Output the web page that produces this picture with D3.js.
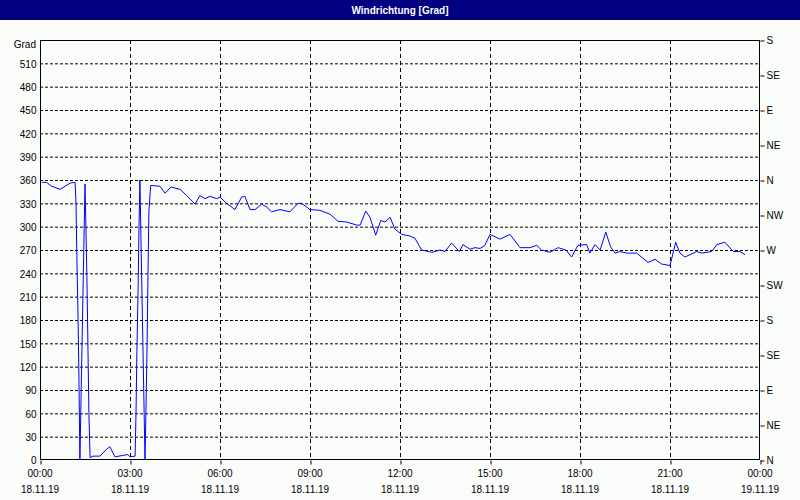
<!DOCTYPE html>
<html>
<head>
<meta charset="utf-8">
<script src="https://cdn.jsdelivr.net/npm/d3@7"></script>
<style>
  body { margin: 0; background: #fafcfa; }
  text { font-family: "Liberation Sans", Arial, sans-serif; font-size: 10px; fill: #000; }
</style>
</head>
<body>
<script>
// time in hours since 18.11.19 00:00, direction in degrees
const hours = [0.06, 0.22, 0.39, 0.67, 1.0, 1.17,
  1.2, 1.23, 1.27, 1.3, 1.33,
  1.5, 1.53, 1.57, 1.6, 1.63, 1.67,
  1.77, 2.0, 2.22, 2.33, 2.5, 2.77, 2.93, 3.0, 3.17,
  3.2, 3.23, 3.27, 3.3, 3.33, 3.5, 3.53, 3.57, 3.6, 3.63, 3.69,
  4.0, 4.17, 4.36, 4.67, 4.89, 5.17, 5.33, 5.5, 5.67, 5.89, 6.0,
  6.22, 6.5, 6.72, 6.83, 7.0, 7.17, 7.39, 7.56, 7.72, 8.0, 8.33, 8.6, 8.72,
  9.0, 9.33, 9.67, 9.93, 10.22, 10.56, 10.67, 10.86, 11.0, 11.19, 11.36,
  11.5, 11.67, 11.83, 12.06, 12.33, 12.5, 12.72, 13.06, 13.33, 13.5,
  13.72, 13.98, 14.1, 14.33, 14.5, 14.67, 14.83, 15.0, 15.33, 15.67,
  16.0, 16.33, 16.56, 16.72, 17.0, 17.27, 17.53, 17.72, 17.93, 18.22,
  18.33, 18.5, 18.67, 18.86, 19.02, 19.17, 19.33, 19.56, 19.89, 20.27,
  20.5, 20.72, 21.0, 21.19, 21.33, 21.5, 21.89, 22.06, 22.39, 22.56,
  22.83, 23.11, 23.33, 23.5];
const degrees = [357, 357, 352, 348, 356, 357,
  330, 260, 180, 100, 0,
  355, 300, 220, 140, 60, 3,
  5, 5, 14, 17, 4, 6, 7, 4, 5,
  60, 140, 220, 300, 360, 0, 60, 150, 240, 320, 353,
  352, 343, 351, 348, 340, 329, 340, 336, 339, 336, 338,
  330, 322, 338, 339, 322, 322, 329, 325, 319, 322, 319, 330, 330,
  322, 321, 316, 307, 306, 302, 302, 320, 312, 289, 308,
  306, 312, 297, 290, 288, 285, 270, 267, 270, 268,
  279, 268, 277, 271, 273, 272, 276, 290, 284, 290,
  273, 273, 276, 270, 267, 273, 270, 261, 276, 277,
  266, 277, 270, 293, 274, 266, 268, 266, 266, 254,
  258, 252, 250, 280, 266, 261, 268, 266, 268, 277,
  280, 268, 268, 264];
const leftTicks = d3.range(0, 540, 30);
const compassValues = d3.range(0, 541, 45);
const compassLabels = ["N", "NE", "E", "SE", "S", "SW", "W", "NW", "N", "NE", "E", "SE", "S"];
const timeTicks = [0, 3, 6, 9, 12, 15, 18, 21, 24];
const timeLabels = ["00:00", "03:00", "06:00", "09:00", "12:00", "15:00", "18:00", "21:00", "00:00"];
const dateLabels = ["18.11.19", "18.11.19", "18.11.19", "18.11.19", "18.11.19", "18.11.19", "18.11.19", "18.11.19", "19.11.19"];

const W = 800, H = 500;
const svg = d3.select("body").append("svg").attr("width", W).attr("height", H);

// title bar
svg.append("rect").attr("x", 0).attr("y", 0).attr("width", W).attr("height", 20).attr("fill", "#000080");
svg.append("text").attr("x", W / 2).attr("y", 14).attr("text-anchor", "middle")
   .style("fill", "#fff").style("font-weight", "bold").text("Windrichtung [Grad]");

const x = d3.scaleLinear().domain([0, 24]).range([40, 760]);
const y = d3.scaleLinear().domain([0, 540]).range([460, 40]);

// grid
svg.append("g").selectAll("line").data(leftTicks.slice(1)).enter().append("line")
   .attr("x1", 40).attr("x2", 760).attr("y1", d => y(d) + 0.5).attr("y2", d => y(d) + 0.5)
   .attr("stroke", "#000").attr("stroke-dasharray", "3,2");
svg.append("g").selectAll("line").data(timeTicks.slice(1, -1)).enter().append("line")
   .attr("x1", d => x(d) + 0.5).attr("x2", d => x(d) + 0.5).attr("y1", 40).attr("y2", 460)
   .attr("stroke", "#000").attr("stroke-dasharray", "4,3");

// frame
svg.append("rect").attr("x", 40.5).attr("y", 40.5).attr("width", 719).attr("height", 419)
   .attr("fill", "none").attr("stroke", "#000");

// left axis
const left = svg.append("g").attr("transform", "translate(40.5,0.5)")
   .call(d3.axisLeft(y).tickValues(leftTicks).tickSize(0).tickPadding(4));
left.select(".domain").remove();
left.selectAll("text").style("font-family", "Liberation Sans").style("font-size", "10px");
svg.append("text").attr("x", 36).attr("y", 48).attr("text-anchor", "end").text("Grad");

// right compass axis
const right = svg.append("g").attr("transform", "translate(760.5,0.5)")
   .call(d3.axisRight(y).tickValues(compassValues).tickFormat((d, i) => compassLabels[i]).tickSize(4).tickPadding(2));
right.select(".domain").remove();
right.selectAll("text").style("font-family", "Liberation Sans").style("font-size", "10px");

// bottom axis
const bottom = svg.append("g").attr("transform", "translate(0.5,460.5)")
   .call(d3.axisBottom(x).tickValues(timeTicks).tickSize(4).tickFormat(() => ""));
bottom.select(".domain").remove();
const lbl = svg.append("g").selectAll("text").data(timeTicks).enter().append("text")
   .attr("x", d => x(d)).attr("text-anchor", "middle");
lbl.append("tspan").attr("x", d => x(d)).attr("y", 477).text((d, i) => timeLabels[i]);
lbl.append("tspan").attr("x", d => x(d)).attr("y", 493).text((d, i) => dateLabels[i]);

// series
const line = d3.line().x(d => x(d[0])).y(d => y(d[1]));
svg.append("path").datum(d3.zip(hours, degrees)).attr("d", line)
   .attr("fill", "none").attr("stroke", "#0000ff").attr("stroke-width", 1);
</script>
</body>
</html>
